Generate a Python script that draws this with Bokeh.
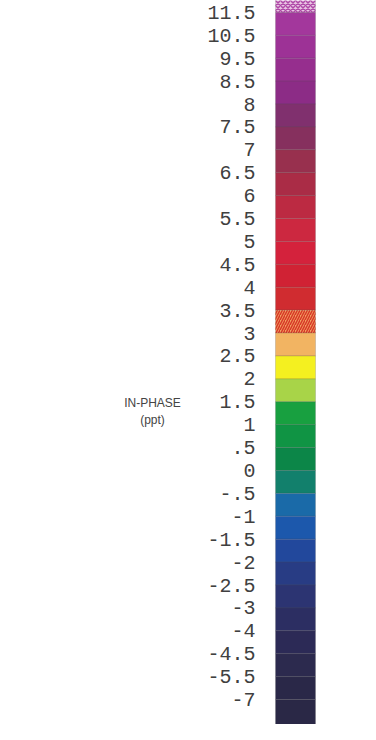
from bokeh.plotting import figure
from bokeh.models import Range1d, ColumnDataSource
from bokeh.core.properties import value
from bokeh.embed import file_html
from bokeh.resources import INLINE

# Tick labels of the legend, top to bottom (they mark band boundaries)
tick_labels = ["11.5", "10.5", "9.5", "8.5", "8", "7.5", "7", "6.5", "6", "5.5",
               "5", "4.5", "4", "3.5", "3", "2.5", "2", "1.5", "1", ".5",
               "0", "-.5", "-1", "-1.5", "-2", "-2.5", "-3", "-4", "-4.5", "-5.5", "-7"]

# Band colours, top to bottom: above 11.5, the 30 intervals, below -7
band_colors = ["#e8c4e2", "#a3379c", "#9d3296", "#962e8e", "#8c2c86", "#80306e",
               "#86305e", "#98304e", "#aa2c46", "#bc2a42", "#cc2840", "#d4223c",
               "#d02234", "#d02c30", "#f0a060", "#f2b462", "#f4f020", "#a8d448",
               "#18a040", "#109444", "#0c8648", "#12806c", "#1a6aa8", "#1c58ac",
               "#22489c", "#283c84", "#2c3472", "#2c2e62", "#2c2a56", "#2c2a4e",
               "#2a2848", "#2a2846"]
band_hatch = [""] * len(band_colors)
band_hatch[0] = "x"
band_hatch[14] = "/"
hatch_colors = ["#b04aa8"] + ["#d83828"] * (len(band_colors) - 1)

title_lines = ["IN-PHASE", "(ppt)"]

n = len(tick_labels)
tick_pos = [n - 1 - i for i in range(n)]          # 30 ... 0
tops = [n - 1 + 1.0] + tick_pos                    # band tops
bottoms = tick_pos + [-1.3]                        # band bottoms

p = figure(width=360, height=724, output_backend="svg", toolbar_location=None,
           x_range=Range1d(8, 368), y_range=Range1d(-1.09, 30.52),
           min_border=0, outline_line_color=None)
p.axis.visible = False
p.grid.visible = False
p.background_fill_color = "white"
p.border_fill_color = "white"

src = ColumnDataSource(dict(top=tops, bottom=bottoms, color=band_colors,
                            hatch=band_hatch, hcolor=hatch_colors))
p.quad(left=283, right=323, top="top", bottom="bottom", source=src,
       fill_color="color", line_color="#505050", line_alpha=0.2, line_width=1,
       hatch_pattern="hatch", hatch_color="hcolor", hatch_scale=5, hatch_weight=1.5)

p.text(x=263, y=tick_pos, text=tick_labels, text_align="right",
       text_baseline="middle", text_font=value("Liberation Mono"),
       text_font_size="20px", text_color="#404040")

p.text(x=[160, 160], y=[12.95, 12.2], text=title_lines, text_align="center",
       text_baseline="middle", text_font=value("Liberation Sans"),
       text_font_size="12px", text_color="#444444")

open("out.html", "w").write(file_html(p, INLINE))
